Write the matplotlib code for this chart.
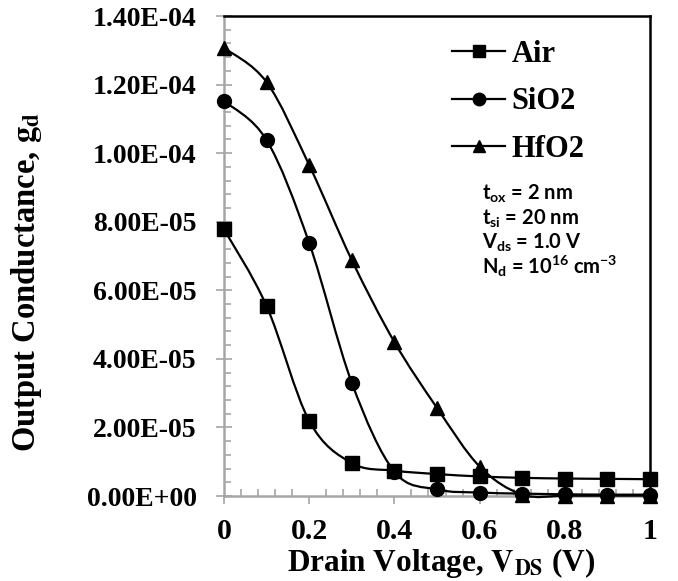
import numpy as np
import matplotlib
matplotlib.use("Agg")
import matplotlib.pyplot as plt
from matplotlib.ticker import MultipleLocator, FuncFormatter
from matplotlib.path import Path
from matplotlib.patches import PathPatch

plt.rcParams['mathtext.fontset'] = 'custom'
plt.rcParams['mathtext.rm'] = 'Lato:bold'
plt.rcParams['mathtext.bf'] = 'Lato:bold'
plt.rcParams['mathtext.it'] = 'Lato:bold'

# Drain voltage sweep and output conductance for each surrounding dielectric
vds = [0.0, 0.1, 0.2, 0.3, 0.4, 0.5, 0.6, 0.7, 0.8, 0.9, 1.0]
gd_air = [7.78e-5, 5.54e-5, 2.19e-5, 9.6e-6, 7.4e-6, 6.4e-6, 5.7e-6, 5.3e-6, 5.1e-6, 5.0e-6, 4.9e-6]
gd_sio2 = [1.152e-4, 1.038e-4, 7.38e-5, 3.3e-5, 7.1e-6, 1.9e-6, 1.0e-6, 7.0e-7, 5.0e-7, 4.0e-7, 4.0e-7]
gd_hfo2 = [1.307e-4, 1.207e-4, 9.65e-5, 6.88e-5, 4.49e-5, 2.57e-5, 8.6e-6, 4.0e-7, 1.0e-7, 1.0e-7, 1.0e-7]

series = [("Air", gd_air, "s"), ("SiO2", gd_sio2, "o"), ("HfO2", gd_hfo2, "^")]

notes = [r"$\mathbf{t}_{\mathbf{ox}}$ = 2 nm",
         r"$\mathbf{t}_{\mathbf{si}}$ = 20 nm",
         r"$\mathbf{V}_{\mathbf{ds}}$ = 1.0 V",
         r"$\mathbf{N}_{\mathbf{d}}$ = 10$^{\mathbf{16}}$ cm$^{\mathbf{-3}}$"]

SERIF = "Liberation Serif"
GRAY = "#a6a6a6"


def smooth_path(xs, ys):
    """Cardinal (Catmull-Rom) Bezier path through the points."""
    p = np.column_stack([xs, ys]).astype(float)
    n = len(p)
    verts = [p[0]]
    codes = [Path.MOVETO]
    for i in range(n - 1):
        p0 = p[i - 1] if i > 0 else p[i]
        p1 = p[i]
        p2 = p[i + 1]
        p3 = p[i + 2] if i + 2 < n else p[i + 1]
        c1 = p1 + (p2 - p0) / 6.0
        c2 = p2 - (p3 - p1) / 6.0
        verts += [c1, c2, p2]
        codes += [Path.CURVE4] * 3
    return Path(verts, codes)


fig = plt.figure(figsize=(6.78, 5.81), dpi=100)
ax = fig.add_axes([224 / 678, 1 - 496 / 581, (650 - 224) / 678, (496 - 16) / 581])

for name, vals, mk in series:
    ax.add_patch(PathPatch(smooth_path(vds, vals), facecolor="none",
                           edgecolor="black", lw=1.6, clip_on=False, zorder=3))
    ax.plot(vds, vals, linestyle="none", marker=mk, markersize=10,
            color="black", clip_on=False, zorder=4)
    ax.plot([], [], "-", marker=mk, color="black", lw=1.6, markersize=9, label=name)

ax.set_xlim(0, 1)
ax.set_ylim(0, 1.4e-4)

ax.xaxis.set_major_locator(MultipleLocator(0.2))
ax.xaxis.set_minor_locator(MultipleLocator(0.04))
ax.yaxis.set_major_locator(MultipleLocator(2e-5))
ax.yaxis.set_minor_locator(MultipleLocator(4e-6))
ax.xaxis.set_major_formatter(FuncFormatter(lambda v, p: f"{v:g}"))
ax.yaxis.set_major_formatter(FuncFormatter(lambda v, p: f"{v:.2E}"))

ax.tick_params(axis="y", which="major", direction="inout", length=11.5, width=1.2,
               color=GRAY, pad=14)
ax.tick_params(axis="y", which="minor", direction="in", length=5, width=1.2, color=GRAY)
ax.tick_params(axis="x", which="major", direction="out", length=6, width=1.2,
               color=GRAY, pad=10)
ax.tick_params(axis="x", which="minor", direction="in", length=5, width=1.2, color=GRAY)

for lab in ax.get_yticklabels():
    lab.set_fontfamily(SERIF)
    lab.set_fontweight("bold")
    lab.set_fontsize(20)
for lab in ax.get_xticklabels():
    lab.set_fontfamily(SERIF)
    lab.set_fontweight("bold")
    lab.set_fontsize(21.5)

for side in ("left", "bottom"):
    ax.spines[side].set_color(GRAY)
    ax.spines[side].set_linewidth(1.8)
for side in ("top", "right"):
    ax.spines[side].set_color("black")
    ax.spines[side].set_linewidth(1.8)

fig.text(441 / 678, 1 - 571 / 581, r"Drain Voltage, $\mathbf{V}_{\mathbf{DS}}$ (V)",
         fontfamily=SERIF, fontweight="bold", fontsize=22.5, math_fontfamily="stix",
         ha="center", va="baseline")
fig.text(27 / 678, 1 - 282 / 581, r"Output Conductance, $\mathbf{g}_{\mathbf{d}}$",
         fontfamily=SERIF, fontweight="bold", fontsize=23.5, math_fontfamily="stix",
         rotation=90, ha="center", va="center")

leg = ax.legend(loc="upper left", bbox_to_anchor=(452 / 678, 1 - 40 / 581),
                bbox_transform=fig.transFigure, frameon=False, handlelength=1.75,
                handletextpad=0.2, labelspacing=0.6, borderpad=0, borderaxespad=0,
                prop={"family": SERIF, "weight": "bold", "size": 22})

for i, t in enumerate(notes):
    fig.text(482 / 678, 1 - (200 + 24.5 * i) / 581, t, fontfamily="Lato",
             fontweight="bold", fontsize=14.5, ha="left", va="baseline",
             math_fontfamily="custom")

fig.savefig("out.png", dpi=100)
